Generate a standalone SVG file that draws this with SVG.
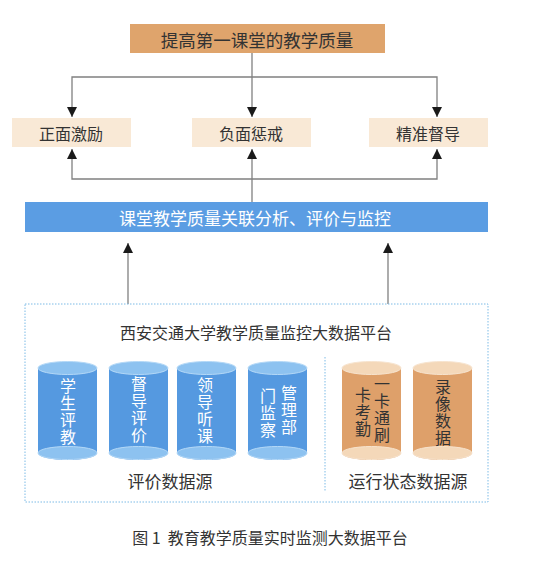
<svg xmlns="http://www.w3.org/2000/svg" width="550" height="568" viewBox="0 0 550 568">
<style>
text{font-family:"Noto Sans CJK SC","Liberation Sans",sans-serif;text-anchor:middle;dominant-baseline:central;fill:#333}
.v{writing-mode:vertical-rl;font-size:16px;letter-spacing:1px}
.ln{stroke:#808080;stroke-width:1.3;fill:none}
.lt{fill:#f9e9d6}
.w{fill:#fff}
.cb{fill:#5599e0}
.ct{fill:#8dc2f0;stroke:#b5d9f7;stroke-width:1}
.ob{fill:#dea06a}
.ot{fill:#f4d8b9;stroke:#f7e4cf;stroke-width:1}
</style>
<defs>
<marker id="ah" viewBox="0 0 10 12" refX="10" refY="6" markerWidth="10" markerHeight="12" markerUnits="userSpaceOnUse" orient="auto-start-reverse">
<path d="M0,1 L10,6 L0,11 z" fill="#1a1a1a"/>
</marker>
</defs>
<rect width="550" height="568" fill="#fff"/>
<g id="connectors">
<line class="ln" x1="252" y1="53" x2="252" y2="117" marker-end="url(#ah)"/>
<polyline class="ln" points="72,117 72,77 437,77 437,117" marker-start="url(#ah)" marker-end="url(#ah)"/>
<line class="ln" x1="252" y1="202" x2="252" y2="149" marker-end="url(#ah)"/>
<polyline class="ln" points="72,149 72,179 437,179 437,149" marker-start="url(#ah)" marker-end="url(#ah)"/>
<line class="ln" x1="128" y1="304" x2="128" y2="243" marker-end="url(#ah)"/>
<line class="ln" x1="388" y1="304" x2="388" y2="243" marker-end="url(#ah)"/>
</g>
<g id="top">
<rect x="130" y="24" width="255" height="29" fill="#dfa46c"/>
<text x="257" y="39" font-size="17.5">提高第一课堂的教学质量</text>
</g>
<g id="n1">
<rect class="lt" x="12" y="118" width="119" height="29"/>
<text x="71" y="133" font-size="16">正面激励</text>
</g>
<g id="n2">
<rect class="lt" x="192" y="118" width="119" height="29"/>
<text x="251" y="133" font-size="16">负面惩戒</text>
</g>
<g id="n3">
<rect class="lt" x="369" y="118" width="119" height="29"/>
<text x="428" y="133" font-size="16">精准督导</text>
</g>
<g id="analysis">
<rect x="25" y="202" width="463" height="30" fill="#5b9de3"/>
<text x="255" y="217" font-size="17" class="w">课堂教学质量关联分析、评价与监控</text>
</g>
<g id="platform">
<rect x="25" y="304" width="463" height="198" fill="none" stroke="#7dbbe6" stroke-width="1" stroke-dasharray="1.5,1.5"/>
<line x1="325" y1="357" x2="325" y2="491" stroke="#7dbbe6" stroke-width="1" stroke-dasharray="1.5,1.5"/>
<text x="256" y="332" font-size="16">西安交通大学教学质量监控大数据平台</text>
<text x="170" y="480" font-size="17">评价数据源</text>
<text x="408" y="480" font-size="17">运行状态数据源</text>
</g>
<g id="c1">
<path class="cb" d="M38,368 V453 A29.5,7 0 0 0 97,453 V368 z"/>
<ellipse class="ct" cx="67.5" cy="453" rx="29.5" ry="6.5"/>
<ellipse class="ct" cx="67.5" cy="368" rx="29.5" ry="6.5"/>
<text class="v w" x="68" y="412">学生评教</text>
</g>
<g id="c2">
<path class="cb" d="M109,368 V453 A29.5,7 0 0 0 168,453 V368 z"/>
<ellipse class="ct" cx="138.5" cy="453" rx="29.5" ry="6.5"/>
<ellipse class="ct" cx="138.5" cy="368" rx="29.5" ry="6.5"/>
<text class="v w" x="139" y="410">督导评价</text>
</g>
<g id="c3">
<path class="cb" d="M177,368 V453 A29.5,7 0 0 0 236,453 V368 z"/>
<ellipse class="ct" cx="206.5" cy="453" rx="29.5" ry="6.5"/>
<ellipse class="ct" cx="206.5" cy="368" rx="29.5" ry="6.5"/>
<text class="v w" x="205" y="411">领导听课</text>
</g>
<g id="c4">
<path class="cb" d="M248,368 V453 A29.5,7 0 0 0 307,453 V368 z"/>
<ellipse class="ct" cx="277.5" cy="453" rx="29.5" ry="6.5"/>
<ellipse class="ct" cx="277.5" cy="368" rx="29.5" ry="6.5"/>
<text class="v w" x="289" y="410">管理部</text>
<text class="v w" x="268" y="413">门监察</text>
</g>
<g id="c5">
<path class="ob" d="M342,368 V453 A29.5,7 0 0 0 401,453 V368 z"/>
<ellipse class="ot" cx="371.5" cy="453" rx="29.5" ry="6.5"/>
<ellipse class="ot" cx="371.5" cy="368" rx="29.5" ry="6.5"/>
<text class="v" x="382" y="410">一卡通刷</text>
<text class="v" x="363" y="412">卡考勤</text>
</g>
<g id="c6">
<path class="ob" d="M413,368 V453 A29.5,7 0 0 0 472,453 V368 z"/>
<ellipse class="ot" cx="442.5" cy="453" rx="29.5" ry="6.5"/>
<ellipse class="ot" cx="442.5" cy="368" rx="29.5" ry="6.5"/>
<text class="v" x="443" y="413">录像数据</text>
</g>
<g id="caption">
<text x="270" y="537" font-size="16" xml:space="preserve">图 1  教育教学质量实时监测大数据平台</text>
</g>
</svg>
